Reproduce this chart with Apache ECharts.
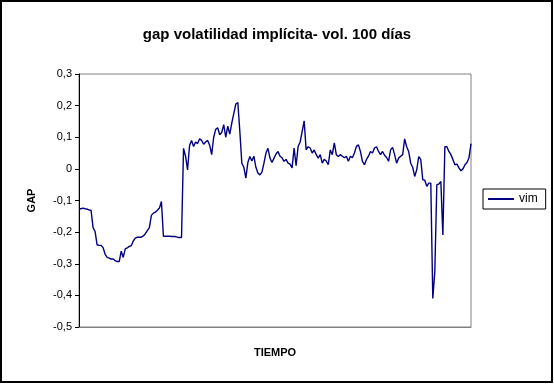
<!DOCTYPE html>
<html><head><meta charset="utf-8">
<script src="https://cdn.jsdelivr.net/npm/echarts@6/dist/echarts.min.js"></script>
<style>html,body{margin:0;padding:0;background:#fff}#c{width:554px;height:384px}</style>
</head><body><div id="c"></div>
<script>
var title = 'gap volatilidad implícita- vol. 100 días';
var seriesName = 'vim';
var yTicks = [-0.5, -0.4, -0.3, -0.2, -0.1, 0, 0.1, 0.2, 0.3];
var gap = [
-0.126,-0.126,-0.124,-0.126,-0.127,-0.13,-0.131,-0.186,-0.198,-0.24,
-0.242,-0.242,-0.249,-0.27,-0.28,-0.282,-0.285,-0.285,-0.29,-0.293,
-0.293,-0.26,-0.28,-0.253,-0.25,-0.245,-0.243,-0.228,-0.219,-0.216,
-0.216,-0.216,-0.212,-0.205,-0.195,-0.186,-0.147,-0.14,-0.137,-0.131,
-0.124,-0.103,-0.213,-0.213,-0.213,-0.213,-0.214,-0.214,-0.214,-0.216,
-0.217,-0.217,0.065,0.04,-0.003,0.074,0.09,0.071,0.085,0.08,
0.095,0.09,0.078,0.085,0.09,0.075,0.045,0.1,0.125,0.13,
0.108,0.115,0.14,0.1,0.135,0.11,0.145,0.175,0.205,0.21,
0.12,0.018,0.005,-0.029,0.02,0.039,0.025,0.04,0.005,-0.013,
-0.019,-0.01,0.018,0.05,0.065,0.034,0.02,0.034,0.047,0.055,
0.04,0.035,0.024,0.03,0.018,0.015,0.003,0.066,0.01,0.071,
0.085,0.118,0.152,0.06,0.07,0.066,0.05,0.06,0.045,0.034,
0.045,0.018,0.03,0.025,0.013,0.06,0.045,0.082,0.045,0.039,
0.045,0.04,0.035,0.04,0.024,0.04,0.035,0.05,0.071,0.076,
0.055,0.024,0.013,0.03,0.04,0.055,0.05,0.066,0.07,0.055,
0.045,0.055,0.043,0.036,0.024,0.06,0.068,0.045,0.018,0.034,
0.04,0.045,0.095,0.07,0.055,0.018,0.005,-0.024,-0.003,0.039,
0.03,-0.034,-0.036,-0.055,-0.045,-0.045,-0.41,-0.325,-0.05,-0.048,
-0.04,-0.209,0.07,0.07,0.055,0.045,0.03,0.013,0.015,0.003,
-0.006,0.0,0.013,0.02,0.035,0.08
];
var tiempo = gap.map(function(_, i){ return i + 1; });

var chart = echarts.init(document.getElementById('c'), null, {renderer:'canvas'});
var font = '"Liberation Sans", Arial, sans-serif';
chart.setOption({
  animation: false,
  backgroundColor: '#fff',
  title: {
    text: title, left: 'center', top: 22,
    textStyle: {fontFamily: font, fontSize: 15, fontWeight: 'bold', color: '#000'}
  },
  legend: {
    data: [seriesName], left: 483, top: 189, orient: 'vertical',
    borderColor: '#000', borderWidth: 1, padding: [4, 8, 4, 5],
    itemWidth: 26, itemHeight: 2, icon: 'rect', itemGap: 0,
    textStyle: {fontFamily: font, fontSize: 12, color: '#000'}
  },
  graphic: [{
    type: 'rect', shape: {x: 1, y: 1, width: 551, height: 381},
    style: {fill: 'none', stroke: '#000', lineWidth: 2}, silent: true, z: 100
  }],
  grid: {left: 79, right: 83, top: 74, bottom: 57, show: true, borderColor: '#808080', borderWidth: 1, backgroundColor: '#fff'},
  xAxis: {
    type: 'category', data: tiempo, boundaryGap: false,
    name: 'TIEMPO', nameLocation: 'middle', nameGap: 20,
    nameTextStyle: {fontFamily: font, fontSize: 11, fontWeight: 'bold', color: '#000'},
    axisLine: {onZero: false, lineStyle: {color: '#808080'}}, axisTick: {show: false}, axisLabel: {show: false},
    splitLine: {show: false}
  },
  yAxis: {
    type: 'value', min: yTicks[0], max: yTicks[yTicks.length - 1], interval: 0.1,
    name: 'GAP', nameLocation: 'middle', nameGap: 42, nameRotate: 90,
    nameTextStyle: {fontFamily: font, fontSize: 11, fontWeight: 'bold', color: '#000'},
    axisLine: {show: true, lineStyle: {color: '#000'}},
    axisTick: {show: true, length: 4, lineStyle: {color: '#000'}},
    axisLabel: {margin: 7, fontFamily: font, fontSize: 11, color: '#000',
      formatter: function(v){ return (Math.round(v * 10) / 10).toString().replace('.', ','); }},
    splitLine: {show: false}
  },
  series: [{
    name: seriesName, type: 'line', data: gap, symbol: 'none', showSymbol: false,
    lineStyle: {color: '#000080', width: 1.4}, itemStyle: {color: '#000080'}
  }]
});
</script></body></html>
